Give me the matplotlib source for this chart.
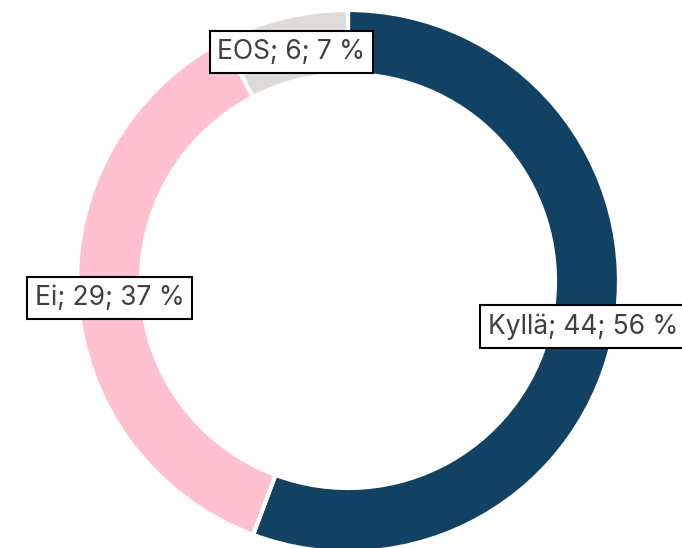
import numpy as np
import matplotlib
matplotlib.use("Agg")
import matplotlib.pyplot as plt

labels = ["Kyllä", "Ei", "EOS"]
counts = [44, 29, 6]
percents = [56, 37, 7]
colors = ["#114263", "#FFC0CF", "#DEDAD7"]

W, H = 682, 548
cx, cy = 348, H - 281
r_out, ring = 271, 64

fig = plt.figure(figsize=(W / 100, H / 100), dpi=100)
ax = fig.add_axes([0, 0, 1, 1])

wedges, _ = ax.pie(counts, colors=colors, startangle=90, counterclock=False,
                   center=(cx, cy), radius=r_out, frame=True,
                   wedgeprops=dict(width=ring, edgecolor="white", linewidth=3))
ax.set_xlim(0, W)
ax.set_ylim(0, H)
ax.set_aspect("equal")
ax.axis("off")

r_lab = r_out - ring / 2
for w, lab, n, p in zip(wedges, labels, counts, percents):
    ang = np.deg2rad((w.theta1 + w.theta2) / 2)
    x = cx + r_lab * np.cos(ang)
    y = cy + r_lab * np.sin(ang) - 3
    ax.text(x, y, f"{lab}; {n}; {p} %", ha="center", va="center",
            fontsize=19, color="#404040", family=["Inter", "DejaVu Sans"],
            bbox=dict(boxstyle="square,pad=0.3", fc="white", ec="black", lw=1.5))

fig.savefig("out.png", dpi=100)
